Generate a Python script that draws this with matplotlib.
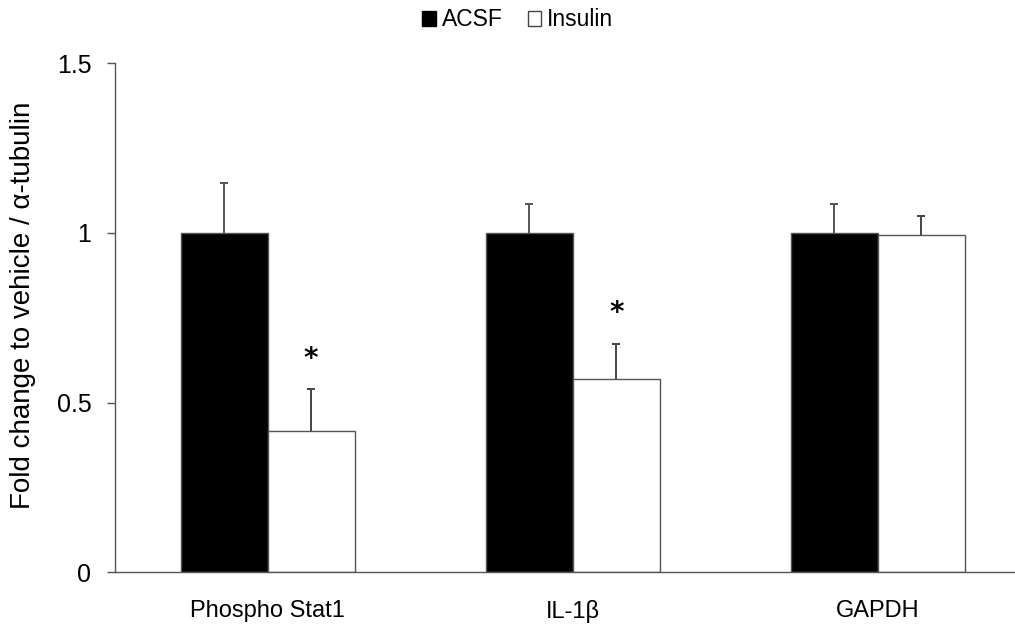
import numpy as np
import matplotlib.pyplot as plt
from matplotlib.patches import Patch

plt.rcParams['font.family'] = ['Liberation Sans', 'DejaVu Sans']

# Protein levels, fold change relative to vehicle
targets = ["Phospho Stat1", "IL-1\u03b2", "GAPDH"]
acsf = [1.0, 1.0, 1.0]
acsf_err = [0.147, 0.085, 0.085]
insulin = [0.416, 0.569, 0.993]
insulin_err = [0.124, 0.105, 0.057]
significant = [True, True, False]

fig = plt.figure(figsize=(10.15, 6.25), dpi=100)
ax = fig.add_axes([0.1133, 0.0842, 0.902, 0.8146])

x = np.arange(len(targets))
w = 0.285
cap = 0.013

ax.bar(x - w / 2, acsf, w, color="black", edgecolor="#555555", linewidth=1)
ax.bar(x + w / 2, insulin, w, color="white", edgecolor="#555555", linewidth=1)

# upper error bars only, no cap at the bar top
for xs, vals, errs, col in [(x - w / 2, acsf, acsf_err, "#555555"),
                            (x + w / 2, insulin, insulin_err, "#444444")]:
    tops = np.array(vals) + np.array(errs)
    ax.vlines(xs, vals, tops, color=col, linewidth=1.4)
    ax.hlines(tops, xs - cap, xs + cap, color=col, linewidth=1.4)

for i, sig in enumerate(significant):
    if sig:
        ax.text(x[i] + w / 2, insulin[i] + insulin_err[i] + 0.09, "*",
                ha="center", va="center", fontsize=20, fontweight="bold",
                family="DejaVu Sans")

ax.set_xlim(-0.5, 2.5)
ax.set_ylim(0, 1.5)
ax.set_yticks([0, 0.5, 1, 1.5])
ax.set_yticklabels(["0", "0.5", "1", "1.5"])
ax.set_xticks(x)
ax.set_xticklabels(targets)
ax.tick_params(axis="x", length=0, pad=20, labelsize=17)
ax.tick_params(axis="y", direction="out", length=6, width=1,
               color="#555555", labelsize=18, pad=11)

for side in ["top", "right"]:
    ax.spines[side].set_visible(False)
for side in ["left", "bottom"]:
    ax.spines[side].set_color("#555555")
    ax.spines[side].set_linewidth(1)

ax.set_ylabel("Fold change to vehicle / \u03b1-tubulin", fontsize=20)
ax.yaxis.set_label_coords(-0.086, 0.525)

handles = [Patch(facecolor="black", edgecolor="black", label="ACSF"),
           Patch(facecolor="white", edgecolor="#444444", label="Insulin")]
fig.legend(handles=handles, loc="center", bbox_to_anchor=(0.51, 0.968), ncol=2,
           frameon=False, fontsize=16.5, handlelength=0.6, handleheight=0.6,
           handletextpad=0.25, columnspacing=1.1)

fig.savefig("out.png", dpi=100)
